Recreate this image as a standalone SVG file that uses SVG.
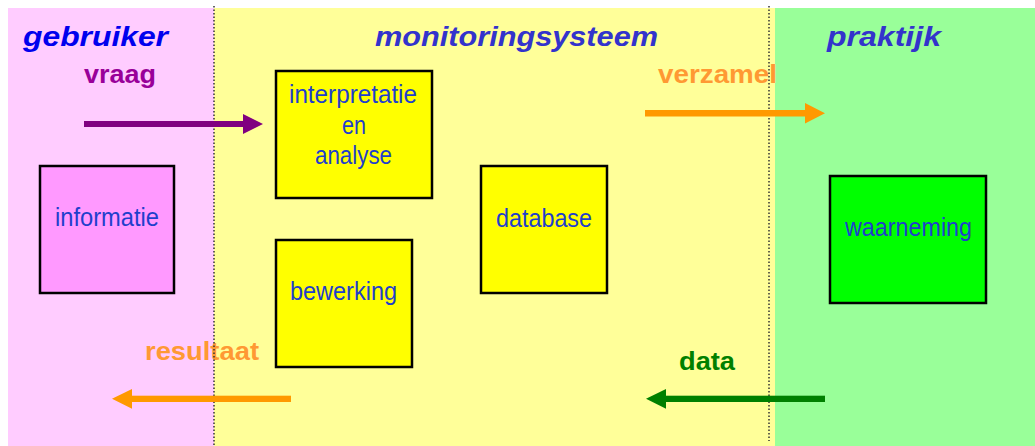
<svg xmlns="http://www.w3.org/2000/svg" width="1035" height="446" viewBox="0 0 1035 446">
<style>
.title{font-family:"Liberation Sans",Arial,sans-serif;font-weight:bold;font-style:italic;font-size:28px}
.lbl{font-family:"Liberation Sans",Arial,sans-serif;font-weight:bold;font-size:26px}
.nt{font-family:"Liberation Sans",Arial,sans-serif;font-size:26px;fill:#1F3FCC}
.box{stroke:#000;stroke-width:2.5}
.div{stroke:#333;stroke-width:1.5;stroke-dasharray:1.5 2}
</style>
<rect x="0" y="0" width="1035" height="446" fill="#fff"/>
<rect x="8" y="8" width="206" height="438" fill="#FFCCFF"/>
<rect x="214" y="8" width="561" height="438" fill="#FFFF99"/>
<rect x="775" y="8" width="260" height="438" fill="#99FF99"/>

<text class="title" x="23" y="46" fill="#0000EE" textLength="145" lengthAdjust="spacingAndGlyphs">gebruiker</text>
<text class="title" x="375" y="46" fill="#3333CC" textLength="283" lengthAdjust="spacingAndGlyphs">monitoringsysteem</text>
<text class="title" x="827" y="46" fill="#3333CC" textLength="114" lengthAdjust="spacingAndGlyphs">praktijk</text>

<text class="lbl" x="84" y="83" fill="#990099" textLength="72" lengthAdjust="spacingAndGlyphs">vraag</text>
<text class="lbl" x="658" y="83" fill="#FF9933" textLength="119" lengthAdjust="spacingAndGlyphs">verzamel</text>
<text class="lbl" x="145" y="360" fill="#FF9933" textLength="114" lengthAdjust="spacingAndGlyphs">resultaat</text>
<text class="lbl" x="679" y="370" fill="#008000" textLength="56" lengthAdjust="spacingAndGlyphs">data</text>

<g id="dividers">
<line class="div" x1="214" y1="6" x2="214" y2="446"/>
<line class="div" x1="769" y1="6" x2="769" y2="441"/>
</g>

<g id="connectors">
<g id="arrow-vraag" fill="#800080">
<rect x="84" y="121" width="160" height="6"/>
<polygon points="243,114 263,124 243,134"/>
</g>
<g id="arrow-verzamel" fill="#FF9900">
<rect x="645" y="110" width="161" height="6.5"/>
<polygon points="805,103 825,113.3 805,123.5"/>
</g>
<g id="arrow-resultaat" fill="#FF9900">
<rect x="131" y="395.7" width="160" height="6.3"/>
<polygon points="132,389 112,398.8 132,408.7"/>
</g>
<g id="arrow-data" fill="#008000">
<rect x="665" y="395.7" width="160" height="6.3"/>
<polygon points="666,389 646,398.8 666,408.7"/>
</g>
</g>

<g id="node-informatie">
<rect class="box" x="40" y="166" width="134" height="127" fill="#FF99FF"/>
<text class="nt" x="55" y="226" textLength="104" lengthAdjust="spacingAndGlyphs">informatie</text>
</g>
<g id="node-interpretatie">
<rect class="box" x="276" y="71" width="156" height="127" fill="#FFFF00"/>
<text class="nt" x="289" y="103" textLength="128" lengthAdjust="spacingAndGlyphs">interpretatie</text>
<text class="nt" x="342" y="134" textLength="24" lengthAdjust="spacingAndGlyphs">en</text>
<text class="nt" x="315" y="164" textLength="77" lengthAdjust="spacingAndGlyphs">analyse</text>
</g>
<g id="node-bewerking">
<rect class="box" x="276" y="240" width="136" height="127" fill="#FFFF00"/>
<text class="nt" x="290" y="300" textLength="107" lengthAdjust="spacingAndGlyphs">bewerking</text>
</g>
<g id="node-database">
<rect class="box" x="481" y="166" width="126" height="127" fill="#FFFF00"/>
<text class="nt" x="496" y="227" textLength="96" lengthAdjust="spacingAndGlyphs">database</text>
</g>
<g id="node-waarneming">
<rect class="box" x="830" y="176" width="156" height="127" fill="#00FF00"/>
<text class="nt" x="845" y="236" textLength="127" lengthAdjust="spacingAndGlyphs">waarneming</text>
</g>
</svg>
